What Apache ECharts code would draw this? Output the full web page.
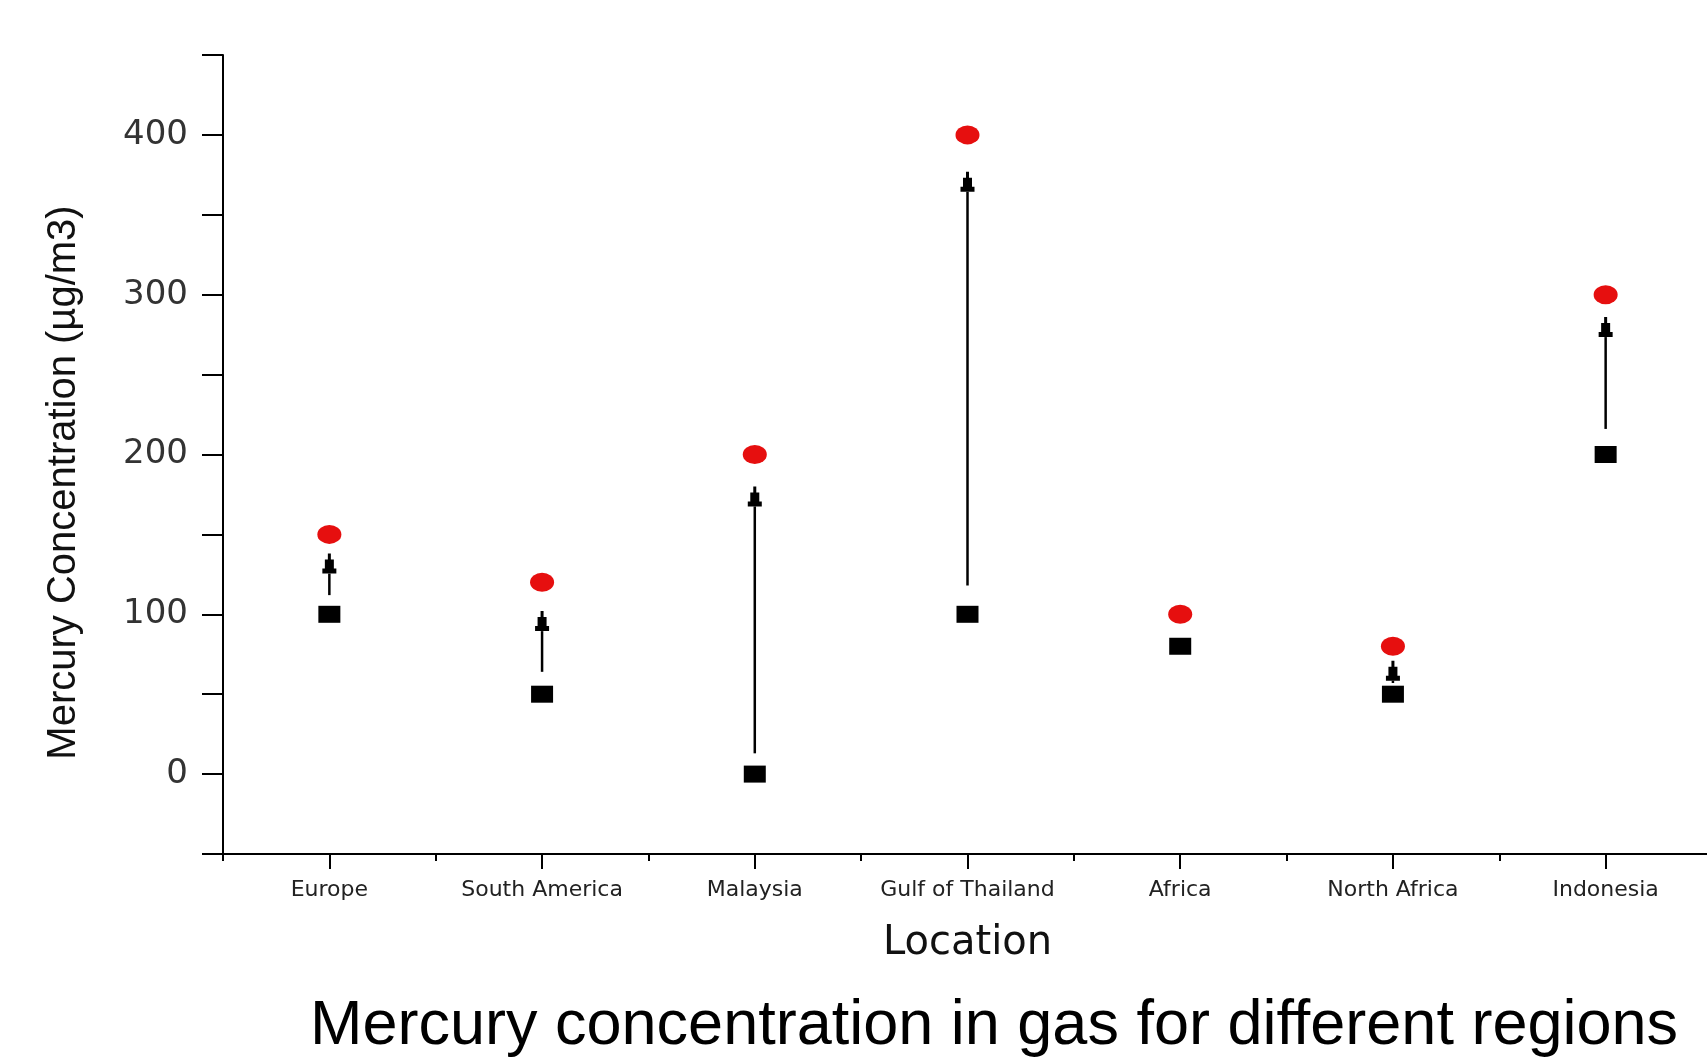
<!DOCTYPE html>
<html lang="en">
<head>
    <meta charset="UTF-8">
    <title>Mercury concentration in gas for different regions</title>
    <script src="https://cdn.jsdelivr.net/npm/echarts@6.0.0/dist/echarts.min.js"></script>
    <style>
        html, body { margin: 0; padding: 0; background: #fff; }
        #chart { width: 1707px; height: 1062px; }
    </style>
</head>
<body>
<div id="chart"></div>
<script>

  var locations = [ 'Europe', 'South America', 'Malaysia', 'Gulf of Thailand', 'Africa', 'North Africa', 'Indonesia' ];
  var lowValues = [ 100, 50, 0, 100, 80, 50, 200 ];     // black squares
  var highValues = [ 150, 120, 200, 400, 100, 80, 300 ]; // red dots
  // arrow tail / tip (no arrow for Africa)
  var arrowFrom = [ 112, 64, 13, 118, null, 57, 216 ];
  var arrowTo = [ 138, 102, 180, 377, null, 71, 286 ];

  var arrowData = [];
  locations.forEach(function (name, i) {
    if (arrowFrom[i] != null) {
      arrowData.push([ i, arrowFrom[i], arrowTo[i] ]);
    }
  });

  var myChart = echarts.init(document.getElementById('chart'));

  myChart.setOption({
    backgroundColor: '#fff',
    animation      : false,
    title          : {
      text     : 'Mercury concentration in gas for different regions',
      left     : 305,
      top      : 990,
      textStyle: {
        fontFamily: 'Liberation Sans',
        fontSize  : 63,
        fontWeight: 'normal',
        color     : '#000',
        lineHeight: 63
      }
    },
    grid           : {
      left           : 223,
      right          : -5,
      top            : 55,
      bottom         : 208,
      containLabel   : false,
      outerBoundsMode: 'none'
    },
    xAxis          : [
      {
        type         : 'category',
        data         : locations,
        boundaryGap  : true,
        name         : 'Location',
        nameLocation : 'middle',
        nameGap      : 70,
        nameTextStyle: { fontFamily: 'DejaVu Sans', fontSize: 40, color: '#111' },
        axisLine     : { onZero: false, lineStyle: { color: '#000', width: 2 } },
        axisTick     : { show: true, alignWithLabel: false, length: 7, lineStyle: { color: '#000', width: 2 } },
        axisLabel    : { margin: 25, fontFamily: 'DejaVu Sans', fontSize: 22, color: '#222', interval: 0 },
        splitLine    : { show: false }
      },
      {
        // long ticks under each location
        type       : 'category',
        data       : locations,
        position   : 'bottom',
        boundaryGap: true,
        axisLine   : { show: false, onZero: false },
        axisTick   : { show: true, alignWithLabel: true, interval: 0, length: 15, lineStyle: { color: '#000', width: 2 } },
        axisLabel  : { show: false },
        splitLine  : { show: false }
      }
    ],
    yAxis          : {
      type         : 'value',
      min          : -50,
      max          : 450,
      interval     : 50,
      name         : 'Mercury Concentration (µg/m3)',
      nameLocation : 'middle',
      nameGap      : 139,
      nameTextStyle: { fontFamily: 'Liberation Sans', fontSize: 40, color: '#111', padding: [ 0, 56, 0, 0 ] },
      axisLine     : { show: true, onZero: false, lineStyle: { color: '#000', width: 2 } },
      axisTick     : { show: true, length: 21, lineStyle: { color: '#000', width: 2 } },
      axisLabel    : {
        margin    : 35,
        fontFamily: 'DejaVu Sans',
        fontSize  : 34,
        color     : '#333',
        formatter : function (v) {
          return v % 100 === 0 ? String(v) : '';
        }
      },
      splitLine    : { show: false }
    },
    series         : [
      {
        name      : 'Arrow',
        type      : 'custom',
        xAxisIndex: 0,
        data      : arrowData,
        encode    : { x: 0, y: [ 1, 2 ] },
        z         : 1,
        renderItem: function (params, api) {
          var tail = api.coord([ api.value(0), api.value(1) ]);
          var tip = api.coord([ api.value(0), api.value(2) ]);
          var x = tip[0], y = tip[1];
          return {
            type    : 'group',
            children: [
              {
                type : 'line',
                shape: { x1: x, y1: tail[1], x2: x, y2: y + 20 },
                style: { stroke: '#000', lineWidth: 2.5 }
              },
              {
                type : 'polygon',
                shape: {
                  points: [
                    [ x - 1.5, y ], [ x + 1.5, y ], [ x + 1.5, y + 6 ], [ x + 4.5, y + 6 ],
                    [ x + 4.5, y + 15 ], [ x + 7, y + 15 ], [ x + 7, y + 20 ],
                    [ x - 7, y + 20 ], [ x - 7, y + 15 ], [ x - 4.5, y + 15 ],
                    [ x - 4.5, y + 6 ], [ x - 1.5, y + 6 ]
                  ]
                },
                style: { fill: '#000' }
              }
            ]
          };
        }
      },
      {
        name      : 'Low',
        type      : 'scatter',
        xAxisIndex: 0,
        data      : lowValues,
        symbol    : 'rect',
        symbolSize: [ 22, 17 ],
        itemStyle : { color: '#000', opacity: 1 },
        z         : 2
      },
      {
        name      : 'High',
        type      : 'scatter',
        xAxisIndex: 0,
        data      : highValues,
        symbol    : 'circle',
        symbolSize: [ 24, 19 ],
        itemStyle : { color: '#e60f0f', opacity: 1 },
        z         : 2
      }
    ]
  });
</script>
</body>
</html>
